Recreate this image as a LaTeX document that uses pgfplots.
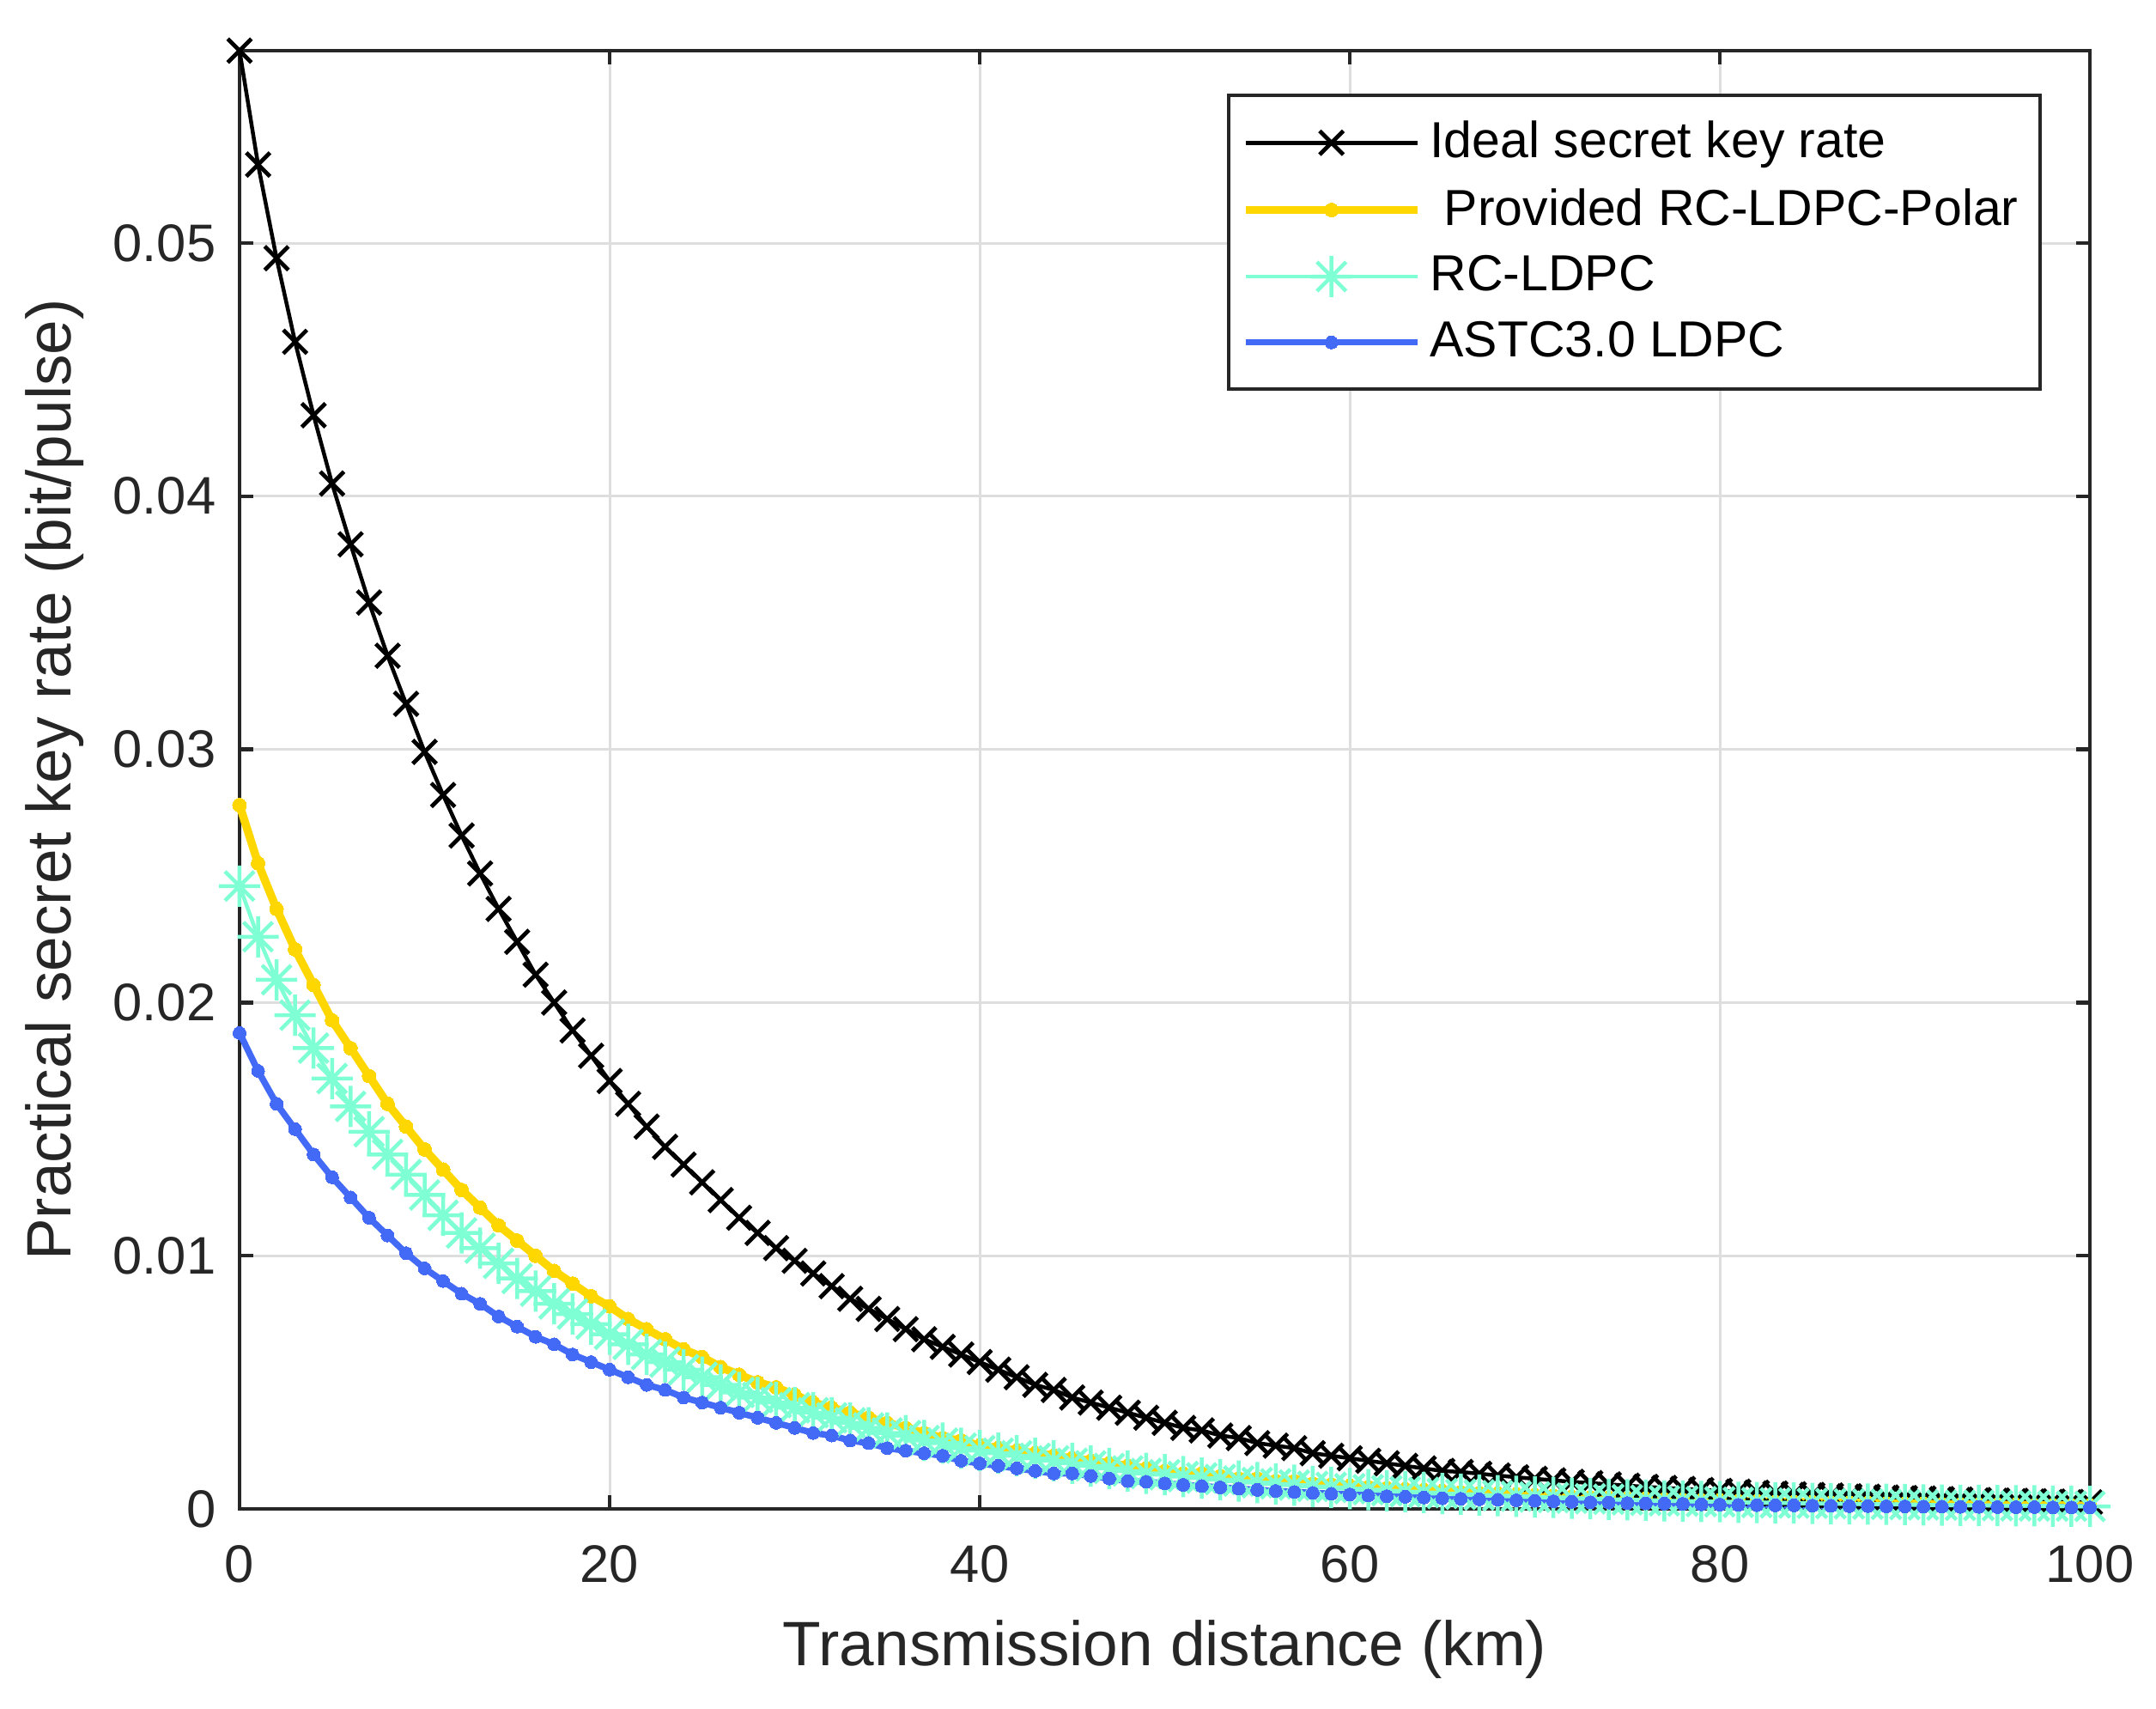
\documentclass[border=0pt]{standalone}
\usepackage{fontspec}
\setmainfont{Liberation Sans}
\usepackage{pgfplots}
\usepackage{pgfplotstable}
\pgfplotsset{compat=1.18}
\usetikzlibrary{calc}
\definecolor{axgray}{RGB}{38,38,38}
\definecolor{gridgray}{RGB}{222,222,222}
\definecolor{cgold}{RGB}{255,215,0}
\definecolor{caqua}{RGB}{127,255,212}
\definecolor{cblue}{RGB}{66,106,246}
\pgfdeclareplotmark{mlstar}{%
 \pgfpathmoveto{\pgfqpoint{-\pgfplotmarksize}{0pt}}\pgfpathlineto{\pgfqpoint{\pgfplotmarksize}{0pt}}%
 \pgfpathmoveto{\pgfqpoint{0pt}{-\pgfplotmarksize}}\pgfpathlineto{\pgfqpoint{0pt}{\pgfplotmarksize}}%
 \pgfpathmoveto{\pgfqpoint{-0.707\pgfplotmarksize}{-0.707\pgfplotmarksize}}\pgfpathlineto{\pgfqpoint{0.707\pgfplotmarksize}{0.707\pgfplotmarksize}}%
 \pgfpathmoveto{\pgfqpoint{-0.707\pgfplotmarksize}{0.707\pgfplotmarksize}}\pgfpathlineto{\pgfqpoint{0.707\pgfplotmarksize}{-0.707\pgfplotmarksize}}%
 \pgfusepathqstroke}
\pgfplotstableread{
x ideal polar rc astc
0 0.0576 0.0278 0.0246 0.0188
1 0.0531 0.0255 0.0226 0.0173
2 0.0494 0.0237 0.0209 0.0160
3 0.0461 0.0221 0.0195 0.0150
4 0.0432 0.0207 0.0182 0.0140
5 0.0405 0.0193 0.0170 0.0131
6 0.0381 0.0182 0.0159 0.0123
7 0.0358 0.0171 0.0149 0.0115
8 0.0337 0.0160 0.0140 0.0108
9 0.0318 0.0151 0.0132 0.0101
10 0.0299 0.0142 0.0124 0.0095
11 0.0282 0.0134 0.0116 0.0090
12 0.0266 0.0126 0.0109 0.0085
13 0.0251 0.0119 0.0103 0.0081
14 0.0237 0.0112 0.0097 0.0076
15 0.0224 0.0106 0.0091 0.0072
16 0.0211 0.0100 0.0086 0.0068
17 0.0200 0.0094 0.0081 0.0065
18 0.0189 0.0089 0.0077 0.0061
19 0.0179 0.0084 0.0073 0.0058
20 0.0169 0.0080 0.0069 0.0055
21 0.0160 0.0075 0.0065 0.0052
22 0.0151 0.0071 0.0061 0.0049
23 0.0143 0.0067 0.0058 0.0047
24 0.0136 0.0063 0.0055 0.0044
25 0.0129 0.0060 0.0052 0.0042
26 0.0122 0.0056 0.0049 0.0040
27 0.0115 0.0053 0.0046 0.0038
28 0.0109 0.0050 0.0044 0.0036
29 0.0103 0.0048 0.0042 0.0034
30 0.0098 0.0045 0.0040 0.0032
31 0.0093 0.0042 0.0038 0.0030
32 0.0088 0.0040 0.0036 0.0029
33 0.0083 0.0038 0.0034 0.0027
34 0.0079 0.0036 0.0032 0.0026
35 0.0075 0.0034 0.0030 0.0024
36 0.0071 0.0032 0.0029 0.0023
37 0.0067 0.0030 0.0027 0.0022
38 0.0064 0.0028 0.0026 0.0021
39 0.0061 0.0027 0.0024 0.0019
40 0.0058 0.0025 0.0023 0.0018
41 0.0055 0.0024 0.0022 0.0017
42 0.0052 0.0023 0.0021 0.0016
43 0.0049 0.0022 0.0020 0.0015
44 0.0047 0.0021 0.0019 0.0014
45 0.0044 0.0020 0.0018 0.0014
46 0.0042 0.0019 0.0017 0.0013
47 0.0040 0.0018 0.0016 0.0012
48 0.0038 0.0017 0.0015 0.0011
49 0.0036 0.0016 0.0014 0.00107
50 0.0034 0.0015 0.00135 0.00101
51 0.0032 0.0014 0.00128 0.00095
52 0.0031 0.0014 0.00122 0.00090
53 0.0029 0.0013 0.00116 0.00085
54 0.0028 0.0012 0.00110 0.00080
55 0.0026 0.0012 0.00104 0.00075
56 0.0025 0.0011 0.00099 0.00071
57 0.0024 0.0011 0.00094 0.00067
58 0.0022 0.0010 0.00089 0.00063
59 0.0021 0.00096 0.00085 0.00060
60 0.0020 0.00091 0.00080 0.00057
61 0.0019 0.00086 0.00076 0.00053
62 0.0018 0.00082 0.00072 0.00050
63 0.0017 0.00078 0.00068 0.00048
64 0.0016 0.00074 0.00065 0.00045
65 0.0015 0.00070 0.00061 0.00042
66 0.00146 0.00066 0.00058 0.00040
67 0.00139 0.00063 0.00055 0.00038
68 0.00132 0.00060 0.00052 0.00036
69 0.00125 0.00057 0.00050 0.00034
70 0.00119 0.00054 0.00047 0.00032
71 0.00113 0.00051 0.00045 0.00030
72 0.00107 0.00048 0.00042 0.00028
73 0.00102 0.00046 0.00040 0.00026
74 0.00097 0.00044 0.00038 0.00025
75 0.00092 0.00042 0.00036 0.00023
76 0.00087 0.00040 0.00034 0.00022
77 0.00083 0.00038 0.00032 0.00021
78 0.00079 0.00036 0.00031 0.00020
79 0.00075 0.00034 0.00029 0.00018
80 0.00071 0.00033 0.00028 0.00017
81 0.00068 0.00031 0.00026 0.00016
82 0.00064 0.00030 0.00025 0.00015
83 0.00061 0.00028 0.00024 0.00014
84 0.00058 0.00027 0.00023 0.00014
85 0.00055 0.00026 0.00022 0.00013
86 0.00053 0.00025 0.00021 0.00012
87 0.00050 0.00024 0.00020 0.00011
88 0.00048 0.00023 0.00019 0.00011
89 0.00045 0.00022 0.00018 0.00010
90 0.00043 0.00021 0.00017 0.00010
91 0.00041 0.00020 0.00016 0.00009
92 0.00039 0.00019 0.00015 0.00009
93 0.00037 0.00018 0.00014 0.00008
94 0.00035 0.00017 0.00014 0.00008
95 0.00033 0.00016 0.00013 0.00007
96 0.00032 0.00016 0.00012 0.00007
97 0.00030 0.00015 0.00012 0.00007
98 0.00029 0.00014 0.00011 0.00006
99 0.00027 0.00014 0.00011 0.00006
100 0.00026 0.00013 0.00010 0.00006
}\datatable
\begin{document}
\begin{tikzpicture}
\begin{axis}[
  scale only axis,
  width=431pt, height=339.6pt,
  xmin=0, xmax=100, ymin=0, ymax=0.0576,
  xtick={0,20,40,60,80,100},
  ytick={0,0.01,0.02,0.03,0.04,0.05},
  yticklabels={0,0.01,0.02,0.03,0.04,0.05},
  scaled y ticks=false,
  scaled x ticks=false,
  /pgf/number format/assume math mode=true,
  tick align=inside,
  major tick length=3.2pt,
  every tick/.style={axgray, line width=0.9pt},
  axis line style={axgray, line width=0.9pt},
  grid=major,
  major grid style={gridgray, line width=0.6pt},
  ticklabel style={font=\fontsize{12.3}{14}\selectfont, text=axgray},
  xticklabel shift=5pt,
  yticklabel shift=2pt,
  xlabel={Transmission distance (km)},
  ylabel={Practical secret key rate (bit/pulse)},
  label style={font=\fontsize{14.6}{17}\selectfont, text=axgray},
  xlabel style={at={(axis description cs:0.5,-0.0966)}, anchor=center},
  ylabel style={at={(axis description cs:-0.0998,0.5)}, anchor=center},
  clip=false,
  legend cell align=left,
  legend style={at={(0.974,0.9706)}, anchor=north east, draw=axgray, line width=0.9pt,
    fill=white, font=\fontsize{11.8}{14}\selectfont, row sep=1.6pt,
    inner xsep=3pt, inner ysep=4pt},
  legend image code/.code={\draw[mark repeat=2,mark phase=2,#1] plot coordinates {(0pt,0pt) (20pt,0pt) (40pt,0pt)};},
]
\addplot[black, line width=0.9pt, mark=x, mark size=3.9pt, mark options={line width=0.95pt}] table[x=x,y=ideal] {\datatable};
\addlegendentry{Ideal secret key rate}
\addplot[cgold, line width=1.9pt, mark=*, mark size=1.6pt, mark options={line width=0pt}] table[x=x,y=polar] {\datatable};
\addlegendentry{\ Provided RC-LDPC-Polar}
\addplot[caqua, line width=0.9pt, mark=mlstar, mark size=4.8pt, mark options={line width=0.9pt}] table[x=x,y=rc] {\datatable};
\addlegendentry{RC-LDPC}
\addplot[cblue, line width=1.5pt, mark=*, mark size=1.5pt, mark options={line width=0pt}] table[x=x,y=astc] {\datatable};
\addlegendentry{ASTC3.0 LDPC}
\end{axis}
\pgfresetboundingbox
\path[use as bounding box] ($(current axis.south west)+(-55.8pt,-46.6pt)$) rectangle ($(current axis.north east)+(15.4pt,11.8pt)$);
\end{tikzpicture}
\end{document}
